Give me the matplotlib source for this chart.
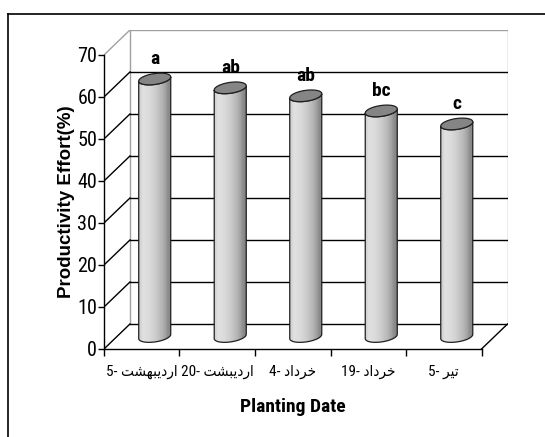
import numpy as np
import matplotlib
matplotlib.use("Agg")
import matplotlib.pyplot as plt
from matplotlib.patches import Polygon
from matplotlib.lines import Line2D

# data
days = ['5', '20', '4', '19', '5']
months = ['اردیبهشت', 'اردیبشت', 'خرداد', 'خرداد', 'تیر']
values = [61.3, 59.2, 57.3, 53.7, 50.6]
letters = ['a', 'ab', 'ab', 'bc', 'c']
yticks = [0, 10, 20, 30, 40, 50, 60, 70]

NARROW = ['Roboto Condensed', 'DejaVu Sans', 'IBM Plex Sans Arabic']

# matplotlib has no arabic shaping, so pick presentation forms by hand
# (isolated, final, initial, medial)
forms = {
    'ا': ('\uFE8D', '\uFE8E', None, None),
    'ر': ('\uFEAD', '\uFEAE', None, None),
    'د': ('\uFEA9', '\uFEAA', None, None),
    'ی': ('\uFBFC', '\uFBFD', '\uFBFE', '\uFBFF'),
    'ي': ('\uFEF1', '\uFEF2', '\uFEF3', '\uFEF4'),
    'ب': ('\uFE8F', '\uFE90', '\uFE91', '\uFE92'),
    'ه': ('\uFEE9', '\uFEEA', '\uFEEB', '\uFEEC'),
    'ش': ('\uFEB5', '\uFEB6', '\uFEB7', '\uFEB8'),
    'ت': ('\uFE95', '\uFE96', '\uFE97', '\uFE98'),
    'خ': ('\uFEA5', '\uFEA6', '\uFEA7', '\uFEA8'),
}


def shape_fa(word):
    out = []
    for i, ch in enumerate(word):
        iso, fin, ini, med = forms[ch]
        prev_joins = i > 0 and forms[word[i - 1]][2] is not None
        next_joins = i < len(word) - 1 and ini is not None
        if prev_joins and next_joins:
            out.append(med)
        elif prev_joins:
            out.append(fin)
        elif next_joins:
            out.append(ini)
        else:
            out.append(iso)
    return ''.join(reversed(out))


xlabels = [d + '- ' + shape_fa(m) for d, m in zip(days, months)]

n = len(values)
DX = 0.344   # depth offset in category units
DY = 5.95    # depth offset in value units
TOP = 70

fig = plt.figure(figsize=(5.45, 4.37), dpi=100)
ax = fig.add_axes([0.1908, 0.2014, 0.7404, 0.730])

# outer frame (right and bottom run off the picture)
fig.add_artist(Line2D([0.0138, 0.0138], [0, 0.968], color='black', lw=1.2))
fig.add_artist(Line2D([0.0138, 1.0], [0.968, 0.968], color='black', lw=1.2))

wall = '#a0a0a0'
# back wall edges
ax.plot([DX, DX, n + DX, n + DX], [DY, TOP + DY, TOP + DY, DY], color=wall, lw=1, zorder=1)
# left wall top edge
ax.plot([0, DX], [TOP, TOP + DY], color=wall, lw=1, zorder=1)
# gridlines on back wall and left wall
for v in yticks[:-1]:
    ax.plot([DX, n + DX], [v + DY, v + DY], color='black', lw=1, zorder=1)
    ax.plot([0, DX], [v, v + DY], color='black', lw=1, zorder=1)
# floor right edge
ax.plot([n, n + DX], [0, DY], color='black', lw=1, zorder=1)

# cylinders
shade = np.interp(np.linspace(0, 1, 200),
                  [0, 0.12, 0.3, 0.5, 0.68, 0.8, 0.87, 0.95, 1.0],
                  [0.80, 0.88, 0.86, 0.80, 0.72, 0.64, 0.56, 0.52, 0.45])
a = 0.212
b = 1.3
k = 0.5
base = DY / 2
for i, v in enumerate(values):
    xc = i + 0.5 + DX / 2
    top = v + base
    t1 = np.linspace(np.pi, 2 * np.pi, 60)
    bx = xc + a * np.cos(t1)
    by = base + b * np.sin(t1) + k * np.cos(t1)
    tx = xc + a * np.cos(t1[::-1])
    ty = top + b * np.sin(t1[::-1]) + k * np.cos(t1[::-1])
    body = Polygon(np.column_stack([np.r_[bx, tx], np.r_[by, ty]]),
                   closed=True, facecolor='none', edgecolor='#202020', lw=0.9, zorder=4)
    ax.add_patch(body)
    im = ax.imshow(shade[np.newaxis, :], cmap='gray', vmin=0, vmax=1,
                   extent=(xc - a, xc + a, base - b - k - 1, top + b + k + 1),
                   aspect='auto', interpolation='bilinear', zorder=3)
    im.set_clip_path(body)
    t = np.linspace(0, 2 * np.pi, 120)
    cap = Polygon(np.column_stack([xc + a * np.cos(t), top + b * np.sin(t) + k * np.cos(t)]),
                  closed=True, facecolor='#858585', edgecolor='#202020', lw=0.9, zorder=5)
    ax.add_patch(cap)
    ax.text(xc, top + 4.8, letters[i], ha='center', va='center', fontsize=14,
            fontweight='bold', family=NARROW, zorder=6)

ax.set_xlim(0, n + DX)
ax.set_ylim(0, TOP + DY)

for s in ['top', 'right']:
    ax.spines[s].set_visible(False)
ax.spines['left'].set_bounds(0, TOP)
ax.spines['bottom'].set_bounds(0, n)
ax.spines['left'].set_linewidth(1)
ax.spines['bottom'].set_linewidth(1)

ax.set_yticks(yticks)
ax.set_yticklabels([str(v) for v in yticks], family=NARROW, fontsize=14.5)
ax.tick_params(axis='y', length=4, width=1, pad=1)

ax.set_xticks(np.arange(n + 1))
ax.set_xticklabels([])
ax.set_xticks(np.arange(n) + 0.5, minor=True)
ax.set_xticklabels(xlabels, minor=True, family=NARROW, fontsize=11, fontstretch='condensed')
ax.tick_params(axis='x', which='major', length=5, width=1)
ax.tick_params(axis='x', which='minor', length=0, pad=11)

ax.set_xlabel('Planting Date', fontsize=14, fontweight='bold', family=NARROW)
ax.xaxis.set_label_coords(2.5 / (n + DX), -0.1536)
ax.text(-0.094, 0.461, 'Productivity Effort(%)', transform=ax.transAxes, rotation=90,
        ha='center', va='center', fontsize=13.5, fontweight='bold', family='Liberation Sans')

fig.savefig('out.png', dpi=100)
